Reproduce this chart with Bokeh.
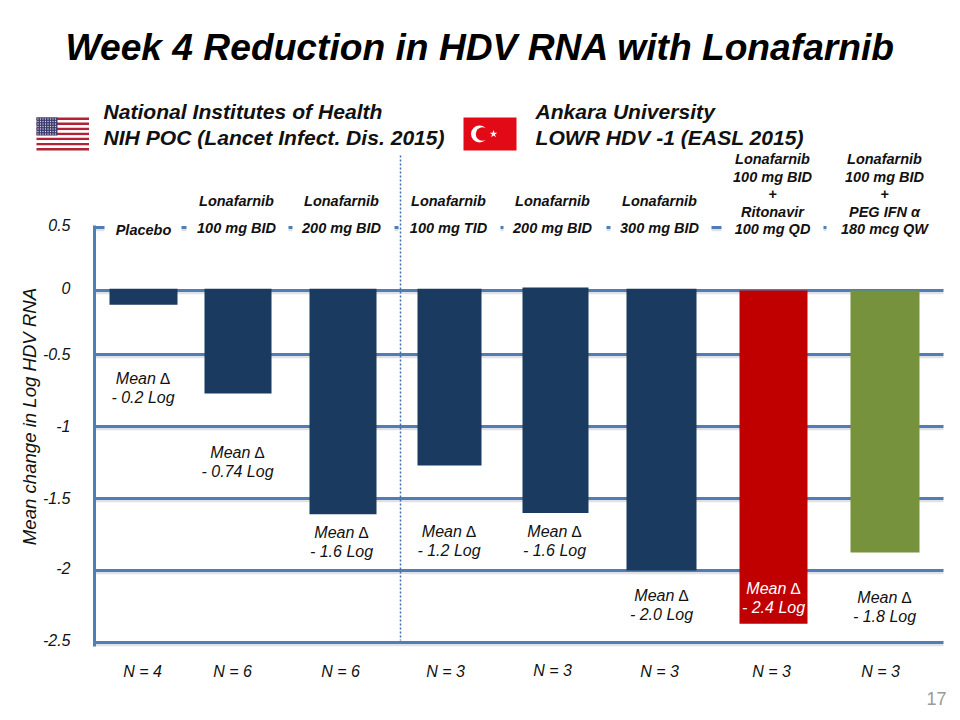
import numpy as np
from bokeh.plotting import figure
from bokeh.models import Range1d, FixedTicker
from bokeh.core.properties import value
from bokeh.embed import file_html
from bokeh.resources import INLINE

FONT = "Liberation Sans"
# ---------- data ----------
title_text = "Week 4 Reduction in HDV RNA with Lonafarnib"
tick_values = [0.5, 0, -0.5, -1, -1.5, -2, -2.5]
tick_labels = ["0.5", "0", "-0.5", "-1", "-1.5", "-2", "-2.5"]
# the original axis is not evenly spaced above -0.5: where each tick sits on the linear scale
tick_places = [0.382, -0.056, -0.5, -1, -1.5, -2, -2.5]
# the labels sit slightly above their gridlines in the original (pixels)
label_lift = [2, 3, 1, 1, 1, 3, 3]

bar_ends = [-0.11, -0.77, -1.61, -1.27, -1.60, -2.00, -2.37, -1.875]
bar_starts = [0.015, 0.015, 0.015, 0.015, 0.025, 0.015, 0.0, 0.0]
bar_colors = ["#1a3a60"] * 6 + ["#c00000", "#76923c"]
mean_labels = ["- 0.2 Log", "- 0.74 Log", "- 1.6 Log", "- 1.2 Log", "- 1.6 Log", "- 2.0 Log", "- 2.4 Log", "- 1.8 Log"]
n_labels = ["N = 4", "N = 6", "N = 6", "N = 3", "N = 3", "N = 3", "N = 3", "N = 3"]
dose_labels = ["100 mg BID", "200 mg BID", "100 mg TID", "200 mg BID", "300 mg BID"]
combo_a = ["Lonafarnib", "100 mg BID", "+", "Ritonavir", "100 mg QD"]
combo_b = ["Lonafarnib", "100 mg BID", "+", "PEG IFN \u03b1", "180 mcg QW"]

# ---------- layout (page pixels) ----------
bar_x = [143, 237.5, 342.5, 449, 555, 661, 773, 884.5]
bar_w = [68, 67, 67, 64, 66, 70, 68, 69]
mean_x = [142.5, 237, 341, 448.5, 554, 661, 773, 884]
mean_y = [378, 452, 532, 531, 531, 595, 588, 597]
n_x = [142, 232, 340, 445, 552, 659, 771, 880]
dose_x = [236, 341, 448, 552, 659]
mask_l = [104, 186, 292, 398, 503, 610, 721, 826]
mask_r = [181, 288, 394, 500, 606, 711, 823, 945]


def place(v):
    return np.interp(v, tick_values[::-1], tick_places[::-1])


W, H = 952, 712
PX = 144.0  # pixels per unit on the value scale
p = figure(width=W, height=H, output_backend="svg", toolbar_location=None,
           x_range=Range1d(0, W),
           y_range=Range1d(-2.5 + (642 - H) / PX, -2.5 + 642 / PX),
           min_border=0, outline_line_color=None)
p.extra_y_ranges = {"px": Range1d(H, 0)}
p.grid.visible = False
p.xaxis.visible = False


def txt(x, y, s, size, bold=False, color="#111111", align="center", angle=0.0, font=FONT):
    p.text(x=x, y=y, text=s, y_range_name="px", text_font=value(font),
           text_font_size=f"{size}px", text_font_style="bold italic" if bold else "italic",
           text_color=color, text_align=align, text_baseline="middle", angle=angle)


# gridlines with their soft shadow
ys = place(np.array(tick_values))
p.segment(x0=[94] * 7, x1=[943] * 7, y0=ys - 2.5 / PX, y1=ys - 2.5 / PX, line_color="#dfe1e4", line_width=2.5)
p.segment(x0=[94] * 7, x1=[943] * 7, y0=ys, y1=ys, line_color="#4f7db4", line_width=3)
# labels sit on white boxes that hide the top gridline
p.quad(left=mask_l, right=mask_r, top=[0.45] * 8, bottom=[0.31] * 8, fill_color="white", line_color=None)

# dotted divider
p.segment(x0=[400], x1=[400], y0=[155], y1=[640], y_range_name="px", line_color="#3f6fa8", line_width=1.5, line_dash="2 2")

# bars
p.vbar(x=bar_x, width=bar_w, top=place(np.array(bar_starts)), bottom=place(np.array(bar_ends)),
       fill_color=bar_colors, line_color=None)

# y axis
label_places = [a + b / PX for a, b in zip(tick_places, label_lift)]
ax = p.yaxis[0]
ax.fixed_location = 94
ax.ticker = FixedTicker(ticks=label_places)
ax.major_label_overrides = {float(a): b for a, b in zip(label_places, tick_labels)}
ax.bounds = (-2.53, 0.396)
ax.axis_line_color = "#4f7db4"
ax.axis_line_width = 3
ax.major_tick_line_color = None
ax.minor_tick_line_color = None
ax.major_label_standoff = 18
ax.major_label_text_font = FONT
ax.major_label_text_font_style = "italic"
ax.major_label_text_font_size = "16px"
ax.major_label_text_color = "#111111"

txt([29], [416], ["Mean change in Log HDV RNA"], 18.6, angle=np.pi / 2)

# title and sources
txt([480], [46.5], [title_text], 37.2, bold=True, color="#000000")
txt([103, 103], [110.5, 136.5], ["National Institutes of Health", "NIH POC (Lancet Infect. Dis. 2015)"], 21.1, bold=True, align="left")
txt([535, 535], [110.5, 136.5], ["Ankara University", "LOWR HDV -1 (EASL 2015)"], 21.1, bold=True, align="left")

# US flag
stripe_y = [117 + 33 / 13 * (i + .5) for i in range(13)]
p.hbar(y=stripe_y, height=33 / 13, left=36, right=88.5, y_range_name="px",
       fill_color=["#b22234" if i % 2 == 0 else "#ffffff" for i in range(13)], line_color=None)
p.quad(left=[36], right=[57], top=[117], bottom=[135], y_range_name="px", fill_color="#3c3b6e", line_color=None)
sx, sy = np.meshgrid(np.arange(37.5, 57, 2.5), np.arange(118.5, 135, 2.5))
p.scatter(x=sx.ravel(), y=sy.ravel(), y_range_name="px", size=1.3, color="#d8d8e8", line_color=None)

# Turkish flag
p.quad(left=[463], right=[516], top=[117], bottom=[150], y_range_name="px", fill_color="#e30a17", line_color=None)
p.scatter(x=[479], y=[133.5], y_range_name="px", size=17, color="white", line_color=None)
p.scatter(x=[482], y=[133.5], y_range_name="px", size=13.5, color="#e30a17", line_color=None)
p.scatter(x=[493], y=[133.5], y_range_name="px", marker="star", size=8, color="white", line_color=None)

# group headers
txt([143], [229], ["Placebo"], 14.5, bold=True)
txt(dose_x, [200] * 5, ["Lonafarnib"] * 5, 14.5, bold=True)
txt(dose_x, [227] * 5, dose_labels, 14.5, bold=True)
line_y = [158, 176, 193, 211, 228]
txt([772] * 5, line_y, combo_a, 14.5, bold=True)
txt([884] * 5, line_y, combo_b, 14.5, bold=True)

# mean change labels
colors = ["#111111"] * 6 + ["#ffffff", "#111111"]
for x, y, m, c in zip(mean_x, mean_y, mean_labels, colors):
    txt([x], [y], ["Mean \u2206"], 16, color=c)
    txt([x], [y + 18.5], [m], 16, color=c)

# sample sizes
txt(n_x, [671, 671, 671, 671, 670, 671, 671, 671], n_labels, 16)

# slide number
p.text(x=[946], y=[698], text=["17"], y_range_name="px", text_font=value(FONT), text_font_size="18px",
       text_color="#9a9a9a", text_align="right", text_baseline="middle")

open("out.html", "w").write(file_html(p, INLINE))
